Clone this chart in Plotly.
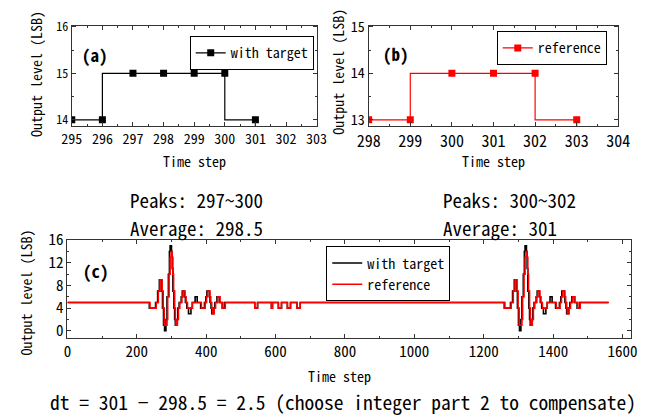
import plotly.graph_objects as go

# ---------------- data ----------------
a_time = [295, 296, 297, 298, 299, 300, 301, 302]
a_level = [14, 14, 15, 15, 15, 15, 14, 13]

b_time = [298, 299, 300, 301, 302, 303, 304]
b_level = [13, 13, 14, 14, 14, 13, 12]

c_target_time = [0, 236, 254, 260, 265, 271, 274, 277, 280, 284, 287, 291, 294, 296, 300, 302, 304, 307, 309, 311,
                 315, 318, 322, 328, 331, 337, 340, 344, 349, 356, 360, 368, 374, 384, 395, 399, 402, 409, 411, 414,
                 416, 421, 425, 431, 438, 446, 453,
                 540, 548, 588, 591, 608, 617, 634, 643, 662, 671,
                 1259, 1277, 1283, 1288, 1294, 1297, 1300, 1303, 1307, 1310, 1314, 1317, 1319, 1323, 1325, 1327, 1330,
                 1332, 1334, 1338, 1341, 1345, 1351, 1354, 1360, 1363, 1367, 1372, 1379, 1383, 1391, 1397, 1407, 1418,
                 1422, 1425, 1432, 1434, 1437, 1439, 1444, 1448, 1454, 1461, 1469, 1476, 1560]
c_target_level = [5, 4, 5, 7, 9, 7, 4, 1, 0, 2, 6, 10, 14, 15, 14, 11, 7, 4, 2, 1,
                  2, 4, 5, 6, 7, 6, 5, 4, 3, 4, 5, 6, 5, 4, 5, 6, 7, 6, 5, 4,
                  3, 4, 5, 6, 5, 4, 5,
                  4, 5, 4, 5, 4, 5, 4, 5, 4, 5,
                  4, 5, 7, 9, 7, 4, 1, 0, 2, 6, 10, 14, 15, 14, 11, 7, 4,
                  2, 1, 2, 4, 5, 6, 7, 6, 5, 4, 3, 4, 5, 6, 5, 4, 5,
                  6, 7, 6, 5, 4, 3, 4, 5, 6, 5, 4, 5, 5]

c_ref_time = [0, 238, 256, 262, 267, 273, 276, 279, 287, 289, 293, 296, 299, 302, 304, 306, 309, 311, 313, 317,
              320, 324, 330, 333, 339, 342, 346, 360, 386, 397, 401, 404, 411, 413, 416, 418, 423, 427, 433, 440,
              448, 455,
              540, 548, 588, 591, 608, 617, 634, 643, 662, 671,
              1261, 1279, 1285, 1290, 1296, 1299, 1302, 1310, 1312, 1316, 1319, 1322, 1325, 1327, 1329, 1332, 1334,
              1336, 1340, 1343, 1347, 1353, 1356, 1362, 1365, 1369, 1383, 1409, 1420, 1424, 1427, 1434, 1436, 1439,
              1441, 1446, 1450, 1456, 1463, 1471, 1478, 1560]
c_ref_level = [5, 4, 5, 7, 9, 7, 4, 1, 2, 6, 10, 13, 14, 13, 10, 7, 4, 2, 1, 2,
               4, 5, 6, 7, 6, 5, 4, 5, 4, 5, 6, 7, 6, 5, 4, 3, 4, 5, 6, 5,
               4, 5,
               4, 5, 4, 5, 4, 5, 4, 5, 4, 5,
               4, 5, 7, 9, 7, 4, 1, 2, 6, 10, 13, 14, 13, 10, 7, 4, 2,
               1, 2, 4, 5, 6, 7, 6, 5, 4, 5, 4, 5, 6, 7, 6, 5, 4,
               3, 4, 5, 6, 5, 4, 5, 5]

a_xticks = [295, 296, 297, 298, 299, 300, 301, 302, 303]
a_yticks = [14, 15, 16]
b_xticks = [298, 299, 300, 301, 302, 303, 304]
b_yticks = [13, 14, 15]
c_xticks = [0, 200, 400, 600, 800, 1000, 1200, 1400, 1600]
c_yticks = [0, 4, 8, 12, 16]

FONT = "Noto Sans Mono CJK JP, Noto Sans CJK JP, Liberation Sans, sans-serif"
W, H = 666, 419
AX = "#333333"


def px(x):
    return x / W


def py(y):
    return 1 - y / H


def axis(domain, rng, tickvals, size, minor_dtick, anchor):
    return dict(domain=domain, range=rng, tickvals=tickvals, anchor=anchor,
                showline=True, linecolor=AX, linewidth=1, mirror="ticks",
                ticks="inside", ticklen=4, tickcolor=AX, tickwidth=1,
                showgrid=False, zeroline=False,
                tickfont=dict(family=FONT, size=size, color="black"),
                minor=dict(ticks="inside", ticklen=2, tickcolor=AX, dtick=minor_dtick, showgrid=False))


fig = go.Figure()

fig.add_trace(go.Scatter(x=a_time, y=a_level, mode="lines+markers", name="with target",
                         line=dict(color="black", width=1.2, shape="vh"),
                         marker=dict(symbol="square", size=7, color="black"),
                         xaxis="x", yaxis="y", legend="legend", showlegend=True))
fig.add_trace(go.Scatter(x=b_time, y=b_level, mode="lines+markers", name="reference",
                         line=dict(color="red", width=1.2, shape="vh"),
                         marker=dict(symbol="square", size=7, color="red"),
                         xaxis="x2", yaxis="y2", legend="legend2", showlegend=True))
fig.add_trace(go.Scatter(x=c_target_time, y=c_target_level, mode="lines", name="with target",
                         line=dict(color="black", width=1.6, shape="hv"),
                         xaxis="x3", yaxis="y3", legend="legend3", showlegend=True))
fig.add_trace(go.Scatter(x=c_ref_time, y=c_ref_level, mode="lines", name="reference",
                         line=dict(color="red", width=1.6, shape="hv"),
                         xaxis="x3", yaxis="y3", legend="legend3", showlegend=True))


def legend_style(size):
    return dict(bgcolor="white", bordercolor="black", borderwidth=1,
                font=dict(family=FONT, size=size, color="black"), tracegroupgap=0, itemwidth=30)


fig.update_layout(
    width=W, height=H, margin=dict(l=0, r=0, t=0, b=0),
    paper_bgcolor="white", plot_bgcolor="white", showlegend=True,
    font=dict(family=FONT, color="black"),
    xaxis=axis([px(62), px(316)], [295, 303], a_xticks, 14, 0.5, "y"),
    yaxis=axis([py(119), py(15)], [13.86, 16.03], a_yticks, 12, 0.5, "x"),
    xaxis2=axis([px(370), px(629)], [298, 304], b_xticks, 16, 0.5, "y2"),
    yaxis2=axis([py(119), py(15)], [12.86, 15.03], b_yticks, 14, 0.5, "x2"),
    xaxis3=axis([px(57.5), px(642)], [0, 1624], c_xticks, 15, 100, "y3"),
    yaxis3=axis([py(337), py(236)], [-1.2, 16.1], c_yticks, 15, 2, "x3"),
    legend=dict(x=px(313), y=py(26), xanchor="right", yanchor="top", **legend_style(14)),
    legend2=dict(x=px(617), y=py(21), xanchor="right", yanchor="top", **legend_style(14)),
    legend3=dict(x=px(326), y=py(243), xanchor="left", yanchor="top", **legend_style(14)),
)

ann = []


def text(x, y, s, size, xanchor="center", angle=0, bold=False):
    ann.append(dict(x=px(x), y=py(y), xref="paper", yref="paper", text=("<b>%s</b>" % s) if bold else s,
                    showarrow=False, xanchor=xanchor, yanchor="middle", textangle=angle,
                    font=dict(family=FONT, size=size, color="black")))


text(71, 45, "(a)", 17, "left", bold=True)
text(383, 44, "(b)", 17, "left", bold=True)
text(72, 268, "(c)", 17, "left", bold=True)
text(189, 155, "Time step", 14)
text(500, 155, "Time step", 14)
text(340, 377, "Time step", 14)
text(25, 65, "Output level (LSB)", 14, angle=-90)
text(338, 63, "Output level (LSB)", 14, angle=-90)
text(15, 290, "Output level (LSB)", 14, angle=-90)
text(120, 195, "Peaks: 297~300", 19, "left")
text(120, 223, "Average: 298.5", 19, "left")
text(445, 195, "Peaks: 300~302", 19, "left")
text(445, 223, "Average: 301", 19, "left")
text(343, 403, "dt = 301 \u2212 298.5 = 2.5 (choose integer part 2 to compensate)", 19.5)

fig.update_layout(annotations=ann)
fig.write_html("out.html")
